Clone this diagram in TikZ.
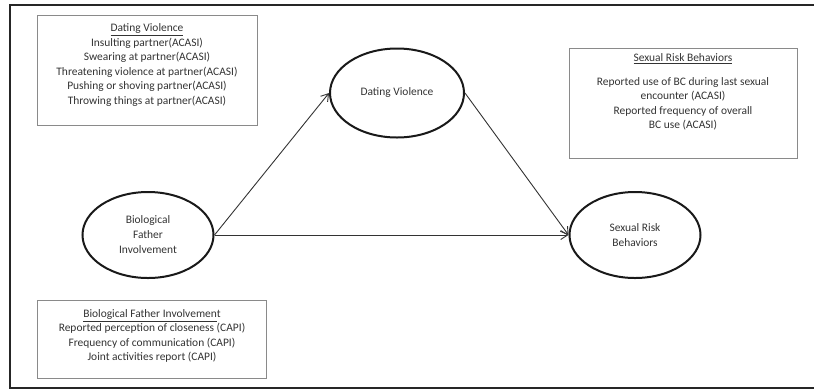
\documentclass[tikz,border=0pt]{standalone}
\usepackage{fontspec}
\setmainfont{Carlito}
\usetikzlibrary{shapes.geometric,arrows.meta}
\definecolor{txt}{HTML}{333333}
\definecolor{boxline}{HTML}{8A8A8A}
\tikzset{
  x=1bp, y=-1bp,
  infobox/.style={draw=boxline, line width=0.9bp, inner sep=0pt},
  infotext/.style={text=txt, align=center, font=\fontsize{11.5}{14.5}\selectfont, inner sep=0pt},
  construct/.style={draw=black!90, ellipse, line width=2bp, inner sep=0pt, text=txt, align=center,
    font=\fontsize{11.5}{15}\selectfont},
  link/.style={draw=black!80, line width=0.9bp, -{Straight Barb[length=7bp,width=9bp]}},
  outerframe/.style={draw=black!85, line width=1.3bp}
}
\begin{document}
\begin{tikzpicture}
\useasboundingbox (0,0) rectangle (814,390);
% outer frame (right side outside picture)
\coordinate (f1) at (820,5);
\coordinate (f2) at (10,5);
\coordinate (f3) at (10,388);
\coordinate (f4) at (820,388);
\draw[outerframe] (f1) -- (f2) -- (f3) -- (f4);

% info boxes
\node[infobox, minimum width=220bp, minimum height=110bp] (dvbox) at (147,70) {};
\node[infotext] (dvtext) at (147,65) {\underline{Dating Violence}\\
Insulting partner(ACASI)\\
Swearing at partner(ACASI)\\
Threatening violence at partner(ACASI)\\
Pushing or shoving partner(ACASI)\\
Throwing things at partner(ACASI)};

\node[infobox, minimum width=228bp, minimum height=110bp] (srbox) at (683,103) {};
\node[infotext] (srtitle) at (683,59) {\underline{Sexual Risk Behaviors}};
\node[infotext] (srtext) at (683,104) {Reported use of BC during last sexual\\
encounter (ACASI)\\
Reported frequency of overall\\
BC use (ACASI)};

\node[infobox, minimum width=229bp, minimum height=78bp] (bfbox) at (151.5,339) {};
\node[infotext] (bftext) at (152,336) {\underline{Biological Father Involvemen}t\\
Reported perception of closeness (CAPI)\\
Frequency of communication (CAPI)\\
Joint activities report (CAPI)};

% constructs
\node[construct, minimum width=131bp, minimum height=86bp] (bf) at (148,235) {Biological\\Father\\Involvement};
\node[construct, minimum width=134bp, minimum height=89bp] (dv) at (397,93) {Dating Violence};
\node[construct, minimum width=131bp, minimum height=86bp] (sr) at (635,235) {Sexual Risk\\Behaviors};

% paths
\draw[link] (bf.east) -- (dv.west);
\draw[link] (dv.east) -- (sr.west);
\draw[link] (bf.east) -- (sr.west);
\end{tikzpicture}
\end{document}
